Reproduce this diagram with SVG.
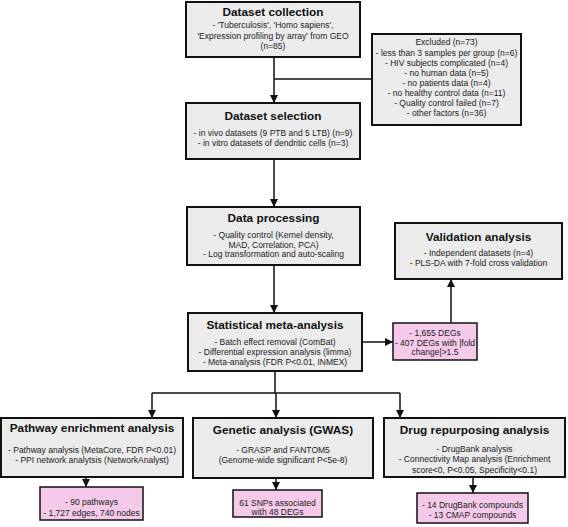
<svg xmlns="http://www.w3.org/2000/svg" width="568" height="527" viewBox="0 0 568 527">
<defs>
<marker id="ah" viewBox="0 0 10 10" refX="10" refY="5" markerWidth="8" markerHeight="8" markerUnits="userSpaceOnUse" orient="auto">
<path d="M0,0 L10,5 L0,10 Z" fill="#111"/>
</marker>
</defs>
<style>
.box{fill:#ebebeb;stroke:#111;stroke-width:2}
.pink{fill:#f4c9ea;stroke:#111;stroke-width:1.5}
.t{font-family:"Liberation Sans",Arial,sans-serif;font-weight:bold;font-size:11.8px;fill:#111;text-anchor:middle}
.b{font-family:"Liberation Sans",Arial,sans-serif;font-size:8.5px;fill:#222;text-anchor:middle}
.c{fill:none;stroke:#111;stroke-width:1.5}
</style>
<rect width="568" height="527" fill="#fff"/>
<g id="connectors">
<line class="c" x1="274" y1="57" x2="274" y2="103" marker-end="url(#ah)"/>
<line class="c" x1="274" y1="79" x2="372" y2="79"/>
<line class="c" x1="274" y1="159" x2="274" y2="207" marker-end="url(#ah)"/>
<line class="c" x1="274" y1="265" x2="274" y2="313" marker-end="url(#ah)"/>
<line class="c" x1="362" y1="342" x2="393" y2="342" marker-end="url(#ah)"/>
<line class="c" x1="451" y1="323" x2="451" y2="279" marker-end="url(#ah)"/>
<line class="c" x1="275" y1="371" x2="275" y2="393"/>
<line class="c" x1="152" y1="393" x2="400" y2="393"/>
<line class="c" x1="152" y1="393" x2="152" y2="418" marker-end="url(#ah)"/>
<line class="c" x1="276" y1="393" x2="276" y2="418" marker-end="url(#ah)"/>
<line class="c" x1="400" y1="393" x2="400" y2="418" marker-end="url(#ah)"/>
<line class="c" x1="86" y1="477" x2="86" y2="487" marker-end="url(#ah)"/>
<line class="c" x1="276" y1="478" x2="276" y2="490" marker-end="url(#ah)"/>
<line class="c" x1="473" y1="477" x2="473" y2="493" marker-end="url(#ah)"/>
</g>
<g id="dataset-collection">
<rect class="box" x="186" y="2" width="174" height="55"/>
<text class="t" x="273" y="16">Dataset collection</text>
<text class="b" x="273" y="28">- 'Tuberculosis', 'Homo sapiens',</text>
<text class="b" x="273" y="38.5">'Expression profiling by array' from GEO</text>
<text class="b" x="273" y="49">(n=85)</text>
</g>
<g id="excluded">
<rect class="box" x="372" y="34" width="149" height="91"/>
<text class="b" x="446.5" y="45">Excluded (n=73)</text>
<text class="b" x="446.5" y="55.5">- less than 3 samples per group (n=6)</text>
<text class="b" x="446.5" y="65.5">- HIV subjects complicated (n=4)</text>
<text class="b" x="446.5" y="75.5">- no human data (n=5)</text>
<text class="b" x="446.5" y="86">- no patients data (n=4)</text>
<text class="b" x="446.5" y="96">- no healthy control data (n=11)</text>
<text class="b" x="446.5" y="106">- Quality control failed (n=7)</text>
<text class="b" x="446.5" y="116">- other factors (n=36)</text>
</g>
<g id="dataset-selection">
<rect class="box" x="186" y="103" width="174" height="56"/>
<text class="t" x="273" y="120">Dataset selection</text>
<text class="b" x="273" y="136">- in vivo datasets (9 PTB and 5 LTB) (n=9)</text>
<text class="b" x="273" y="146">- in vitro datasets of dendritic cells (n=3)</text>
</g>
<g id="data-processing">
<rect class="box" x="187" y="207" width="173" height="58"/>
<text class="t" x="273.5" y="222">Data processing</text>
<text class="b" x="273.5" y="238">- Quality control (Kernel density,</text>
<text class="b" x="273.5" y="247.5">MAD, Correlation, PCA)</text>
<text class="b" x="273.5" y="257">- Log transformation and auto-scaling</text>
</g>
<g id="validation">
<rect class="box" x="395" y="223" width="167" height="56"/>
<text class="t" x="478.5" y="241">Validation analysis</text>
<text class="b" x="478.5" y="256">- Independent datasets (n=4)</text>
<text class="b" x="478.5" y="266">- PLS-DA with 7-fold cross validation</text>
</g>
<g id="statistical">
<rect class="box" x="188" y="313" width="174" height="58"/>
<text class="t" x="275" y="329">Statistical meta-analysis</text>
<text class="b" x="275" y="345">- Batch effect removal (ComBat)</text>
<text class="b" x="275" y="355">- Differential expression analysis (limma)</text>
<text class="b" x="275" y="365">- Meta-analysis (FDR P&lt;0.01, INMEX)</text>
</g>
<g id="degs">
<rect class="pink" x="393" y="323" width="84" height="37"/>
<text class="b" x="435" y="336">- 1,655 DEGs</text>
<text class="b" x="435" y="345.5">- 407 DEGs with |fold</text>
<text class="b" x="435" y="355">change|&gt;1.5</text>
</g>
<g id="pathway">
<rect class="box" x="1" y="418" width="182" height="59"/>
<text class="t" x="92" y="432">Pathway enrichment analysis</text>
<text class="b" x="92" y="453">- Pathway analysis (MetaCore, FDR P&lt;0.01)</text>
<text class="b" x="92" y="463">- PPI network analytsis (NetworkAnalyst)</text>
</g>
<g id="pathway-result">
<rect class="pink" x="40" y="487" width="103" height="33"/>
<text class="b" x="91.5" y="505">- 90 pathways</text>
<text class="b" x="91.5" y="516">- 1,727 edges, 740 nodes</text>
</g>
<g id="genetic">
<rect class="box" x="193" y="418" width="180" height="60"/>
<text class="t" x="283" y="434">Genetic analysis (GWAS)</text>
<text class="b" x="283" y="453">- GRASP and FANTOM5</text>
<text class="b" x="283" y="462.5">(Genome-wide significant P&lt;5e-8)</text>
</g>
<g id="genetic-result">
<rect class="pink" x="233" y="490" width="89" height="27"/>
<text class="b" x="277.5" y="505.5">61 SNPs associated</text>
<text class="b" x="277.5" y="515">with 48 DEGs</text>
</g>
<g id="drug">
<rect class="box" x="384" y="418" width="181" height="59"/>
<text class="t" x="474.5" y="434">Drug repurposing analysis</text>
<text class="b" x="474.5" y="452">- DrugBank analysis</text>
<text class="b" x="474.5" y="462">- Connectivity Map analysis (Enrichment</text>
<text class="b" x="474.5" y="472.5">score&lt;0, P&lt;0.05, Specificity&lt;0.1)</text>
</g>
<g id="drug-result">
<rect class="pink" x="417" y="493" width="111" height="30"/>
<text class="b" x="472.5" y="508">- 14 DrugBank compounds</text>
<text class="b" x="472.5" y="518">- 13 CMAP compounds</text>
</g>
</svg>
